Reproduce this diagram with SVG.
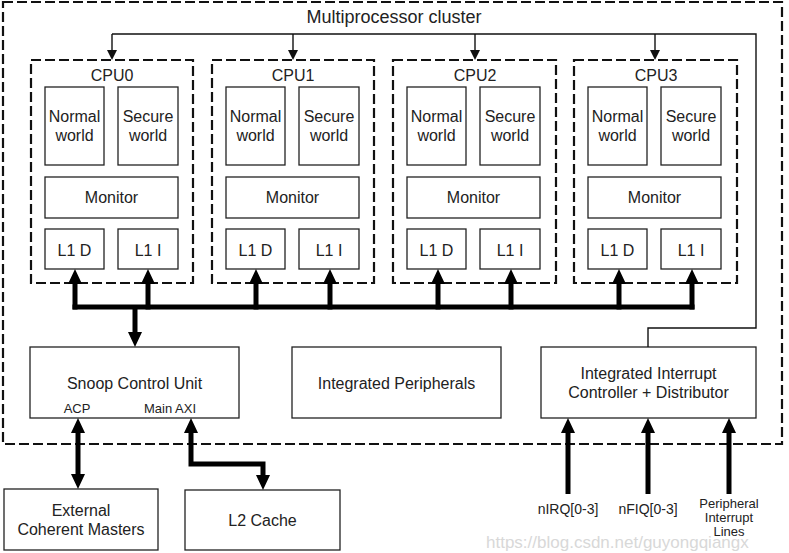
<svg xmlns="http://www.w3.org/2000/svg" width="789" height="553" viewBox="0 0 789 553">
<style>
  text { font-family: "Liberation Sans", Arial, sans-serif; fill: #222; text-anchor: middle; }
  .t16 { font-size: 16px; }
  .t18 { font-size: 18px; }
  .t13 { font-size: 13px; }
  .t14 { font-size: 14px; }
  .box { fill: #fff; stroke: #222; stroke-width: 1.3; }
  .dash { fill: none; stroke: #111; stroke-width: 2.2; stroke-dasharray: 10 4; }
  .thin { fill: none; stroke: #111; stroke-width: 1.4; }
  .thick { fill: none; stroke: #000; stroke-width: 5; }
  .wm { font-size: 17px; fill: #d8d8d8; text-anchor: start; }
</style>
<defs>
  <marker id="ah" viewBox="0 0 15 14" refX="5" refY="7" markerWidth="15" markerHeight="14" markerUnits="userSpaceOnUse" orient="auto-start-reverse">
    <path d="M0,0 L15,7 L0,14 z" fill="#000"/>
  </marker>
  <marker id="as" viewBox="0 0 10 10" refX="8" refY="5" markerWidth="10" markerHeight="10" markerUnits="userSpaceOnUse" orient="auto">
    <path d="M0,0 L10,5 L0,10 z" fill="#111"/>
  </marker>
</defs>
<rect width="789" height="553" fill="#fff"/>

<text class="wm" x="486" y="548">https://blog.csdn.net/guyongqiangx</text>

<g id="cluster">
  <rect x="3" y="2" width="779" height="442" class="dash"/>
  <text class="t18" x="394" y="23">Multiprocessor cluster</text>
</g>

<g id="cpu0">
  <rect x="31" y="60" width="162" height="223" class="dash"/>
  <text class="t16" x="112" y="81">CPU0</text>
  <rect x="45" y="87" width="59" height="78" class="box"/>
  <text class="t16" x="74.5" y="122">Normal</text><text class="t16" x="74.5" y="141">world</text>
  <rect x="118" y="87" width="60" height="78" class="box"/>
  <text class="t16" x="148" y="122">Secure</text><text class="t16" x="148" y="141">world</text>
  <rect x="45" y="177" width="133" height="41" class="box"/>
  <text class="t16" x="111.5" y="203">Monitor</text>
  <rect x="45" y="229" width="59" height="40" class="box"/>
  <text class="t16" x="74.5" y="256">L1 D</text>
  <rect x="118" y="229" width="60" height="40" class="box"/>
  <text class="t16" x="148" y="256">L1 I</text>
</g>

<g id="cpu1">
  <rect x="212" y="60" width="162" height="223" class="dash"/>
  <text class="t16" x="293" y="81">CPU1</text>
  <rect x="226" y="87" width="59" height="78" class="box"/>
  <text class="t16" x="255.5" y="122">Normal</text><text class="t16" x="255.5" y="141">world</text>
  <rect x="299" y="87" width="60" height="78" class="box"/>
  <text class="t16" x="329" y="122">Secure</text><text class="t16" x="329" y="141">world</text>
  <rect x="226" y="177" width="133" height="41" class="box"/>
  <text class="t16" x="292.5" y="203">Monitor</text>
  <rect x="226" y="229" width="59" height="40" class="box"/>
  <text class="t16" x="255.5" y="256">L1 D</text>
  <rect x="299" y="229" width="60" height="40" class="box"/>
  <text class="t16" x="329" y="256">L1 I</text>
</g>

<g id="cpu2">
  <rect x="393" y="60" width="163" height="223" class="dash"/>
  <text class="t16" x="475" y="81">CPU2</text>
  <rect x="407" y="87" width="59" height="78" class="box"/>
  <text class="t16" x="436.5" y="122">Normal</text><text class="t16" x="436.5" y="141">world</text>
  <rect x="480" y="87" width="60" height="78" class="box"/>
  <text class="t16" x="510" y="122">Secure</text><text class="t16" x="510" y="141">world</text>
  <rect x="407" y="177" width="133" height="41" class="box"/>
  <text class="t16" x="473.5" y="203">Monitor</text>
  <rect x="407" y="229" width="59" height="40" class="box"/>
  <text class="t16" x="436.5" y="256">L1 D</text>
  <rect x="480" y="229" width="60" height="40" class="box"/>
  <text class="t16" x="510" y="256">L1 I</text>
</g>

<g id="cpu3">
  <rect x="574" y="60" width="163" height="223" class="dash"/>
  <text class="t16" x="656" y="81">CPU3</text>
  <rect x="588" y="87" width="59" height="78" class="box"/>
  <text class="t16" x="617.5" y="122">Normal</text><text class="t16" x="617.5" y="141">world</text>
  <rect x="661" y="87" width="60" height="78" class="box"/>
  <text class="t16" x="691" y="122">Secure</text><text class="t16" x="691" y="141">world</text>
  <rect x="588" y="177" width="133" height="41" class="box"/>
  <text class="t16" x="654.5" y="203">Monitor</text>
  <rect x="588" y="229" width="59" height="40" class="box"/>
  <text class="t16" x="617.5" y="256">L1 D</text>
  <rect x="661" y="229" width="60" height="40" class="box"/>
  <text class="t16" x="691" y="256">L1 I</text>
</g>

<g id="scu">
  <rect x="30" y="347" width="209" height="71" class="box"/>
  <text class="t16" x="134.5" y="389">Snoop Control Unit</text>
  <text class="t13" x="77" y="413">ACP</text>
  <text class="t13" x="170" y="413">Main AXI</text>
</g>

<g id="peripherals">
  <rect x="292" y="347" width="209" height="71" class="box"/>
  <text class="t16" x="396.5" y="389">Integrated Peripherals</text>
</g>

<g id="gic">
  <rect x="541" y="347" width="215" height="71" class="box"/>
  <text class="t16" x="648.5" y="379">Integrated Interrupt</text>
  <text class="t16" x="648.5" y="398">Controller + Distributor</text>
</g>

<g id="external">
  <rect x="4" y="489" width="154" height="61" class="box"/>
  <text class="t16" x="81" y="516">External</text>
  <text class="t16" x="81" y="535">Coherent Masters</text>
</g>

<g id="l2">
  <rect x="185" y="490" width="155" height="60" class="box"/>
  <text class="t16" x="262.5" y="526">L2 Cache</text>
</g>

<g id="inputs">
  <text class="t14" x="568" y="514">nIRQ[0-3]</text>
  <text class="t14" x="648" y="514">nFIQ[0-3]</text>
  <text class="t13" x="729" y="508">Peripheral</text>
  <text class="t13" x="729" y="522">Interrupt</text>
  <text class="t13" x="729" y="536">Lines</text>
</g>

<g id="connectors">
  <path d="M112,34 L756,34 L756,328 L648,328 L648,347" class="thin"/>
  <line x1="112" y1="34" x2="112" y2="58" class="thin" marker-end="url(#as)"/>
  <line x1="293" y1="34" x2="293" y2="58" class="thin" marker-end="url(#as)"/>
  <line x1="475" y1="34" x2="475" y2="58" class="thin" marker-end="url(#as)"/>
  <line x1="655" y1="34" x2="655" y2="58" class="thin" marker-end="url(#as)"/>

  <line x1="72.5" y1="307" x2="694.5" y2="307" class="thick"/>
  <line x1="75" y1="309.5" x2="75" y2="279" class="thick" marker-end="url(#ah)"/>
  <line x1="148" y1="309.5" x2="148" y2="279" class="thick" marker-end="url(#ah)"/>
  <line x1="256" y1="309.5" x2="256" y2="279" class="thick" marker-end="url(#ah)"/>
  <line x1="330" y1="309.5" x2="330" y2="279" class="thick" marker-end="url(#ah)"/>
  <line x1="438" y1="309.5" x2="438" y2="279" class="thick" marker-end="url(#ah)"/>
  <line x1="511" y1="309.5" x2="511" y2="279" class="thick" marker-end="url(#ah)"/>
  <line x1="619" y1="309.5" x2="619" y2="279" class="thick" marker-end="url(#ah)"/>
  <line x1="692" y1="309.5" x2="692" y2="279" class="thick" marker-end="url(#ah)"/>
  <line x1="135" y1="307" x2="135" y2="337" class="thick" marker-end="url(#ah)"/>

  <line x1="78" y1="428" x2="78" y2="479" class="thick" marker-start="url(#ah)" marker-end="url(#ah)"/>
  <path d="M191,428 L191,464 L263,464 L263,480" class="thick" marker-start="url(#ah)" marker-end="url(#ah)"/>

  <line x1="568" y1="494" x2="568" y2="428" class="thick" marker-end="url(#ah)"/>
  <line x1="648" y1="494" x2="648" y2="428" class="thick" marker-end="url(#ah)"/>
  <line x1="729" y1="494" x2="729" y2="428" class="thick" marker-end="url(#ah)"/>
</g>
</svg>
